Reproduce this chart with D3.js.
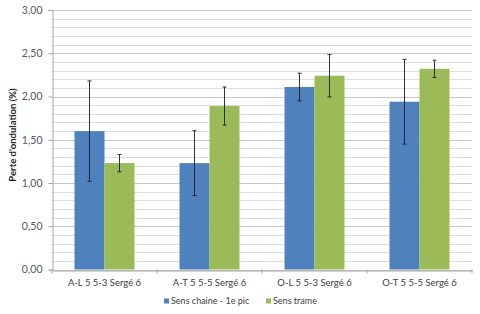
<!DOCTYPE html>
<html><head><meta charset="utf-8">
<script src="https://cdn.jsdelivr.net/npm/d3@7"></script>
<style>body{margin:0;background:#fff}svg{display:block;font-family:Lato,"Noto Sans",sans-serif}</style>
</head><body><svg id="c" width="480" height="314"></svg>
<script>
const categories = ["A-L 5 5-3 Sergé 6","A-T 5 5-5 Sergé 6","O-L 5 5-3 Sergé 6","O-T 5 5-5 Sergé 6"];
const seriesNames = ["Sens chaine - 1e pic","Sens trame"];
const chaineValues = [1.60, 1.23, 2.11, 1.94];
const chaineErrors = [0.58, 0.375, 0.16, 0.49];
const trameValues = [1.23, 1.89, 2.24, 2.32];
const trameErrors = [0.10, 0.22, 0.245, 0.10];
const yTicks = [0,0.5,1,1.5,2,2.5,3];
const colors = ["#4F81BD","#9BBB59"];

const svg = d3.select("#c");
const m = {l:52, r:472, t:10, b:269.5};
const x = d3.scaleBand().domain(categories).range([m.l, m.r]).paddingInner(0).paddingOuter(0);
const y = d3.scaleLinear().domain([0,3]).range([m.b, m.t]);
const inner = d3.scaleBand().domain(seriesNames).range([0, x.bandwidth()]).paddingInner(0).paddingOuter(0.75);

// minor gridlines
svg.append("g").selectAll("line").data(d3.range(0,3.0001,0.1)).join("line")
  .attr("x1", m.l).attr("x2", m.r)
  .attr("y1", d=>Math.round(y(d))+0.5).attr("y2", d=>Math.round(y(d))+0.5)
  .attr("stroke", "#DEDEDE").attr("stroke-width",1);
// major gridlines
svg.append("g").selectAll("line").data(yTicks).join("line")
  .attr("x1", m.l).attr("x2", m.r)
  .attr("y1", d=>Math.round(y(d))+0.5).attr("y2", d=>Math.round(y(d))+0.5)
  .attr("stroke", "#C8C8C8").attr("stroke-width",1);

// y axis
const yAx = svg.append("g").attr("transform", `translate(${m.l+0.5},0)`)
  .call(d3.axisLeft(y).tickValues(yTicks).tickSize(4).tickPadding(6).tickFormat(d=>d3.format(".2f")(d).replace(".",",")));
yAx.select(".domain").attr("stroke","#A6A6A6");
yAx.selectAll(".tick line").attr("stroke","#A6A6A6");
yAx.selectAll("text").attr("fill","#595959").attr("font-size","10.5px").attr("font-family","Lato,'Noto Sans',sans-serif");

// x axis
const xAx = svg.append("g").attr("transform", `translate(0,${Math.round(m.b)+0.5})`)
  .call(d3.axisBottom(x).tickSize(0).tickPadding(9));
xAx.select(".domain").attr("stroke","#A6A6A6");
xAx.selectAll("text").attr("fill","#404040").attr("font-size","9.5px").attr("font-family","Lato,'Noto Sans',sans-serif");
svg.append("g").selectAll("line").data(d3.range(categories.length+1)).join("line")
  .attr("x1", i=>m.l + i*x.bandwidth()).attr("x2", i=>m.l + i*x.bandwidth())
  .attr("y1", m.b).attr("y2", m.b+4).attr("stroke","#A6A6A6");

const data = [
  {name:seriesNames[0], vals:chaineValues, errs:chaineErrors, color:colors[0]},
  {name:seriesNames[1], vals:trameValues, errs:trameErrors, color:colors[1]}
];
data.forEach(s=>{
  const g = svg.append("g");
  g.selectAll("rect").data(categories).join("rect")
    .attr("x", (c)=>x(c)+inner(s.name))
    .attr("width", inner.bandwidth())
    .attr("y", (c,i)=>y(s.vals[i]))
    .attr("height", (c,i)=>y(0)-y(s.vals[i]))
    .attr("fill", s.color);
});
data.forEach(s=>{
  const g = svg.append("g").attr("stroke","#1a1a2e").attr("stroke-width",0.9);
  categories.forEach((c,i)=>{
    const cx = x(c)+inner(s.name)+inner.bandwidth()/2;
    const hi = y(s.vals[i]+s.errs[i]), lo = y(s.vals[i]-s.errs[i]);
    g.append("line").attr("x1",cx).attr("x2",cx).attr("y1",hi).attr("y2",lo);
    g.append("line").attr("x1",cx-2).attr("x2",cx+2).attr("y1",hi).attr("y2",hi);
    g.append("line").attr("x1",cx-2).attr("x2",cx+2).attr("y1",lo).attr("y2",lo);
  });
});

// y label
svg.append("text").attr("transform","translate(16,135) rotate(-90)")
  .attr("text-anchor","middle").attr("font-size","9.5px").attr("font-weight","bold")
  .attr("fill","#222").text("Perte d'ondulation (%)");

// legend
const leg = svg.append("g").attr("font-size","9px").attr("fill","#404040");
const legX = [164, 266];
data.forEach((s,i)=>{
  leg.append("rect").attr("x",legX[i]).attr("y",298.5).attr("width",5).attr("height",5).attr("fill",s.color);
  leg.append("text").attr("x",legX[i]+7).attr("y",304).attr("fill","#404040").text(s.name);
});
</script></body></html>
